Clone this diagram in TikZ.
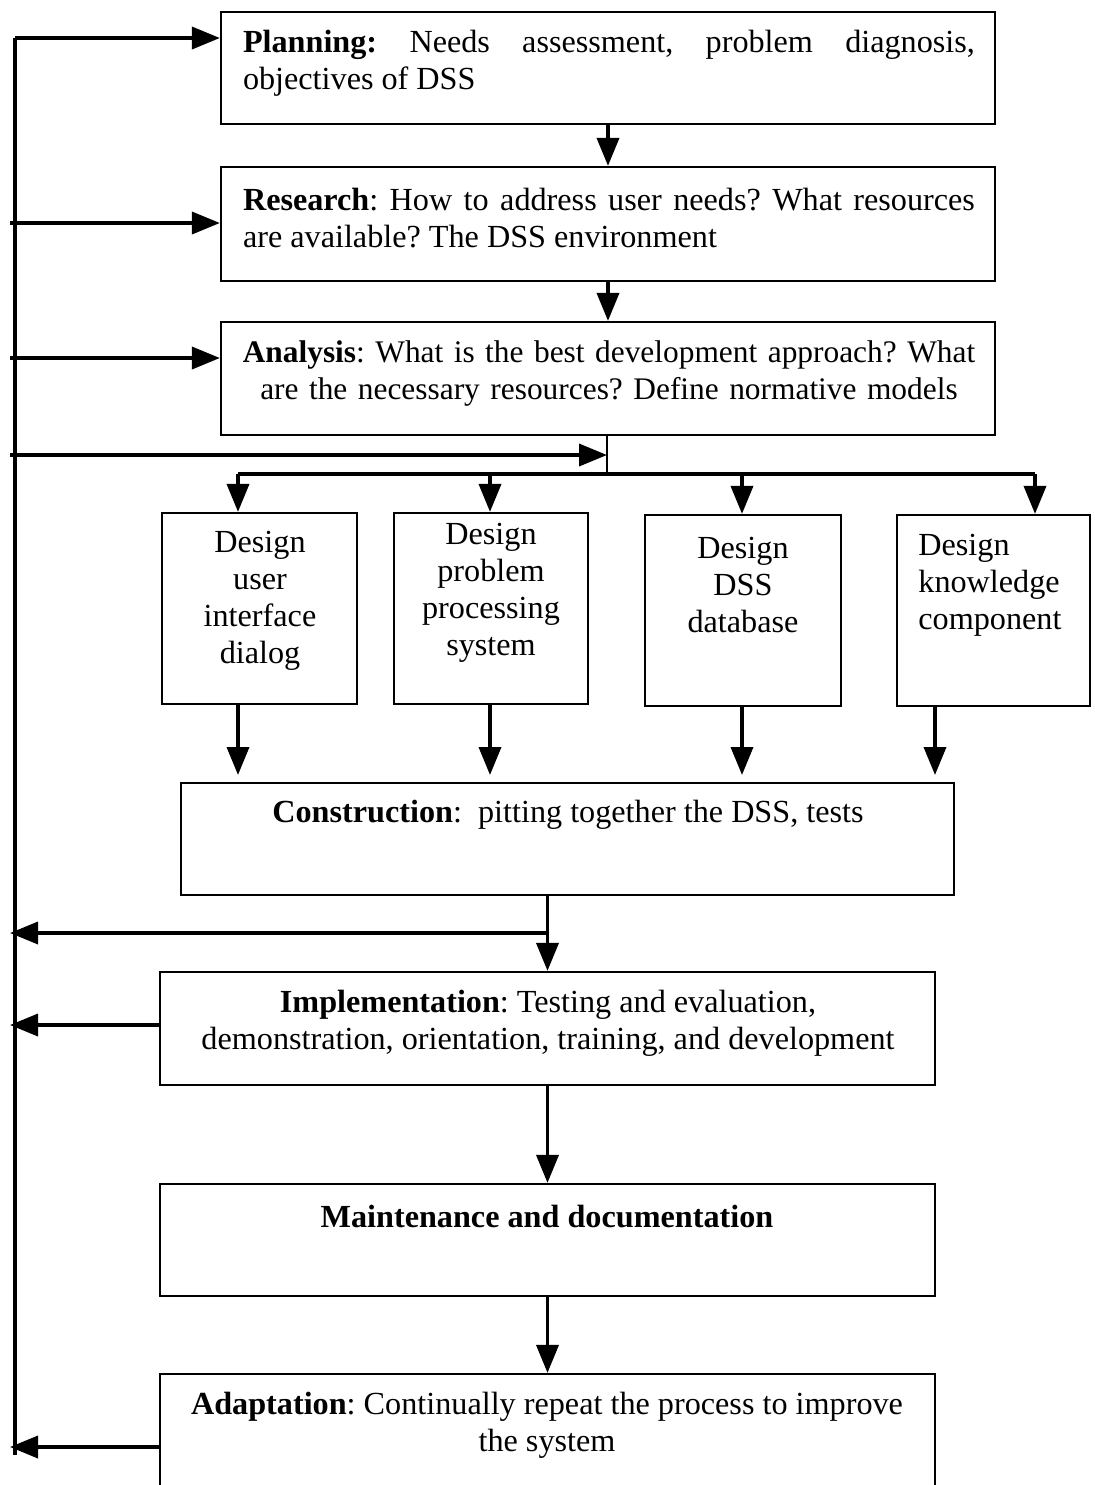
\documentclass[tikz,border=0pt]{standalone}
\usepackage{fontspec}
\setmainfont{Liberation Serif}
\usetikzlibrary{arrows.meta}
\frenchspacing
\begin{document}
\begin{tikzpicture}[x=0.5pt,y=-0.5pt,
  box/.style={draw, line width=1.1pt, inner sep=0pt, rectangle},
  txt/.style={inner sep=0pt, font=\fontsize{16.1}{18.5}\selectfont},
  arr/.style={line width=1.8pt, -{Triangle[length=14pt,width=11pt]}},
  ln/.style={line width=1.8pt},
  thin/.style={line width=1pt}]
\useasboundingbox (0,0) rectangle (1094,1485);
\clip (0,0) rectangle (1094,1485);

% stage boxes
\node[box, minimum width=387pt, minimum height=56pt]   (plan)  at (608,68) {};
\node[box, minimum width=387pt, minimum height=57pt]   (res)   at (608,224) {};
\node[box, minimum width=387pt, minimum height=56.5pt] (ana)   at (608,378.5) {};
\node[box, minimum width=97.5pt, minimum height=95.5pt] (d1)   at (259.5,608.5) {};
\node[box, minimum width=97pt, minimum height=95.5pt]  (d2)    at (491,608.5) {};
\node[box, minimum width=98pt, minimum height=95.5pt]  (d3)    at (743,610.5) {};
\node[box, minimum width=96.5pt, minimum height=95.5pt] (d4)   at (993.5,610.5) {};
\node[box, minimum width=386.5pt, minimum height=56pt] (cons)  at (567.5,839) {};
\node[box, minimum width=387.5pt, minimum height=56.5pt] (impl) at (547.5,1028.5) {};
\node[box, minimum width=387.5pt, minimum height=56pt] (maint) at (547.5,1240) {};
\node[box, minimum width=387.5pt, minimum height=73pt] (adapt) at (547.5,1447) {};

% box texts
\node[txt, text width=366pt, align=justify] (planT) at (609,63)
  {\textbf{Planning:} Needs assessment, problem diagnosis,\linebreak objectives of DSS};
\node[txt, text width=366pt, align=justify] (resT) at (609,218)
  {\textbf{Research}: How to address user needs? What resources\linebreak are available? The DSS environment};
\node[txt, text width=380pt, align=center, font=\fontsize{15.7}{18.5}\selectfont] (anaT) at (609,373)
  {\textbf{Analysis}: What is the best development approach? What\\are the necessary resources? Define normative models};
\node[txt, align=center] (d1T) at (260,601) {Design\\user\\interface\\dialog};
\node[txt, align=center] (d2T) at (491,593) {Design\\problem\\processing\\system};
\node[txt, align=center] (d3T) at (743,585) {Design\\DSS\\database};
\node[txt, align=left, anchor=west] (d4T) at (918,585) {Design\\knowledge\\component};
\node[txt] (consT) at (568,815) {\textbf{Construction}:\ \ pitting together the DSS, tests};
\node[txt, align=center] (implT) at (548,1023)
  {\textbf{Implementation}: Testing and evaluation,\\demonstration, orientation, training, and development};
\node[txt] (maintT) at (547,1217) {\textbf{Maintenance and documentation}};
\node[txt, align=center] (adaptT) at (547,1425)
  {\textbf{Adaptation}: Continually repeat the process to improve\\the system};

% feedback rail on the left
\coordinate (lt) at (15,38);
\coordinate (lb) at (15,1455);
\coordinate (r0) at (10,223);
\coordinate (a0) at (10,358);
\coordinate (b0) at (10,455);
\coordinate (c0) at (10,933);
\coordinate (i0) at (10,1025);
\coordinate (e0) at (10,1447);
\draw[ln] (lb) -- (lt);
\draw[arr] (lt) -- (lt -| plan.west);
\draw[arr] (r0) -- (r0 -| res.west);
\draw[arr] (a0) -- (a0 -| ana.west);

% main sequence
\draw[arr] (plan.south) -- (res.north);
\draw[arr] (res.south) -- (ana.north);

% branching to the design components
\coordinate (bj) at (607,474);
\coordinate (bx1) at (238,474);
\coordinate (bx2) at (490,474);
\coordinate (bx3) at (742,474);
\coordinate (bx4) at (1035,474);
\draw[thin] (ana.south -| bj) -- (bj);
\draw[arr] (b0) -- (b0 -| bj);
\draw[ln] (bx1) -- (bx4);
\draw[arr] (bx1) -- (bx1 |- d1.north);
\draw[arr] (bx2) -- (bx2 |- d2.north);
\draw[arr] (bx3) -- (bx3 |- d3.north);
\draw[arr] (bx4) -- (bx4 |- d4.north);

% design components into construction
\coordinate (cx1) at (238,775);
\coordinate (cx2) at (490,775);
\coordinate (cx3) at (742,775);
\coordinate (cx4) at (935,775);
\draw[arr] (cx1 |- d1.south) -- (cx1);
\draw[arr] (cx2 |- d2.south) -- (cx2);
\draw[arr] (cx3 |- d3.south) -- (cx3);
\draw[arr] (cx4 |- d4.south) -- (cx4);

% construction onwards
\coordinate (cj) at (547,933);
\draw[arr] (impl.north |- cons.south) -- (impl.north);
\draw[arr] (cj) -- (c0);
\draw[arr] (impl.south) -- (maint.north);
\draw[arr] (impl.west |- i0) -- (i0);
\draw[arr] (maint.south) -- (adapt.north);
\draw[arr] (adapt.west) -- (e0);
\end{tikzpicture}
\end{document}
